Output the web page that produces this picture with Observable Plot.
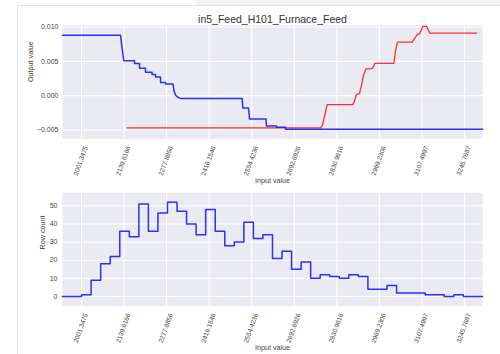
<!DOCTYPE html>
<html><head><meta charset="utf-8">
<script src="https://cdn.jsdelivr.net/npm/d3@7"></script>
<script src="https://cdn.jsdelivr.net/npm/@observablehq/plot@0.6"></script>
<style>
html,body{margin:0;padding:0;background:#fff;width:500px;height:354px;overflow:hidden;}
#wrap{position:relative;width:500px;height:354px;}
#band{position:absolute;left:195px;top:0;width:305px;height:5px;background:#f3f3f3;}
#frame{position:absolute;left:17px;top:5px;width:483px;height:349px;border-left:1px solid #e4e4e4;border-top:1px solid #e4e4e4;}
#top,#bottom{position:absolute;left:0;}
#top{top:0}
#bottom{top:186px}
svg{display:block}
</style></head><body>
<div id="wrap"><div id="band"></div><div id="frame"></div><div id="top"></div><div id="bottom"></div></div>
<script>
const title = "in5_Feed_H101_Furnace_Feed";
const xLabel = "Input value";
const topYLabel = "Output value";
const bottomYLabel = "Row count";
const xTicks = [2001.3475, 2139.6166, 2277.8856, 2416.1546, 2554.4236, 2692.6926, 2830.9616, 2969.2306, 3107.4997, 3245.7687];
const xTickLabels = ["2001.3475", "2139.6166", "2277.8856", "2416.1546", "2554.4236", "2692.6926", "2830.9616", "2969.2306", "3107.4997", "3245.7687"];
const topYTicks = [-0.005, 0, 0.005, 0.010];
const countTicks = [0, 10, 20, 30, 40, 50];

const blueX = [1939.6, 2128.1, 2132.9, 2138.8, 2173.5, 2173.5, 2189.8, 2189.8, 2209.3, 2209.3, 2230.4, 2230.4, 2241.8, 2241.8, 2258.0, 2258.0, 2274.3, 2274.3, 2298.6, 2301.9, 2306.7, 2313.2, 2323.0, 2523.5, 2525.4, 2543.9, 2547.2, 2600.8, 2602.4, 2634.9, 2634.9, 2664.1, 2664.1, 3304.2];
const blueY = [0.0088, 0.0088, 0.0070, 0.0051, 0.0051, 0.0047, 0.0047, 0.0040, 0.0040, 0.0034, 0.0034, 0.0031, 0.0031, 0.0027, 0.0027, 0.0019, 0.0019, 0.0017, 0.0017, 0.0007, 0.0001, -0.0002, -0.0004, -0.0004, -0.0018, -0.0018, -0.0034, -0.0034, -0.0044, -0.0044, -0.0046, -0.0046, -0.0049, -0.0049];

const redX = [2149.2, 2777.9, 2784.3, 2790.9, 2799.6, 2882.8, 2888.3, 2894.8, 2904.6, 2911.1, 2917.6, 2925.7, 2940.3, 2946.8, 2954.9, 3016.0, 3021.5, 3028.0, 3075.8, 3083.3, 3092.0, 3099.5, 3110.9, 3122.2, 3133.0, 3284.7];
const redY = [-0.0047, -0.0047, -0.0043, -0.0030, -0.0013, -0.0013, -0.0008, 0.0002, 0.0003, 0.0015, 0.0030, 0.0039, 0.0039, 0.0040, 0.0047, 0.0047, 0.0065, 0.0078, 0.0078, 0.0083, 0.0089, 0.0090, 0.0101, 0.0101, 0.0091, 0.0091];

const binEdges = [1939.6, 1970.6, 2001.6, 2032.6, 2063.6, 2094.7, 2125.7, 2156.7, 2187.7, 2218.7, 2249.7, 2280.7, 2311.7, 2342.7, 2373.7, 2404.8, 2435.8, 2466.8, 2497.8, 2528.8, 2559.8, 2590.8, 2621.8, 2652.8, 2683.8, 2714.9, 2745.9, 2776.9, 2807.9, 2838.9, 2869.9, 2900.9, 2931.9, 2962.9, 2993.9, 3025.0, 3056.0, 3087.0, 3118.0, 3149.0, 3180.0, 3211.0, 3242.0, 3273.0, 3304.0];
const rowCounts = [0, 0, 1, 9, 18, 22, 36, 33, 51, 36, 46, 52, 47, 40, 34, 48, 36, 28, 30, 41, 32, 34, 21, 25, 15, 19, 10, 12, 11, 10, 12, 11, 4, 4, 6, 2, 2, 2, 1, 1, 0, 1, 0, 0];

const font = "'Liberation Sans', Arial, sans-serif";
const textColor = "#444";
const bg = "#EAEAF2";
const xDomain = [1939.6, 3304.2];

const blueData = blueX.map((x, i) => ({x, y: blueY[i]}));
const redData = redX.map((x, i) => ({x, y: redY[i]}));
const histData = binEdges.map((x, i) => ({x, y: rowCounts[Math.min(i, rowCounts.length - 1)]}));

function xTickText() {
  return Plot.text(xTicks, {
    x: d => d, frameAnchor: "bottom", text: (d, i) => xTickLabels[i],
    rotate: -70, textAnchor: "end", lineAnchor: "middle",
    dx: 4.5, dy: 7.5, fontSize: 6.5, fill: textColor
  });
}

const topPlot = Plot.plot({
  width: 500, height: 186,
  marginLeft: 62, marginRight: 18, marginTop: 24.7, marginBottom: 47.7,
  x: {domain: xDomain, axis: null},
  y: {domain: [-0.00628, 0.01026], axis: null},
  style: {fontFamily: font, background: "transparent", overflow: "visible"},
  marks: [
    Plot.frame({fill: bg, stroke: "none"}),
    Plot.gridX(xTicks, {stroke: "white", strokeOpacity: 1, strokeWidth: 1.1}),
    Plot.gridY(topYTicks, {stroke: "white", strokeOpacity: 1, strokeWidth: 1.1}),
    Plot.axisY(topYTicks, {tickSize: 0, tickPadding: 4, tickFormat: d3.format(".3f"), fontSize: 7, fill: textColor, label: null}),
    xTickText(),
    Plot.line(redData, {x: "x", y: "y", stroke: "#ff1a1a", strokeWidth: 1.3, strokeOpacity: 0.9}),
    Plot.line(blueData, {x: "x", y: "y", stroke: "#1a1aff", strokeWidth: 1.5, strokeOpacity: 0.9}),
    Plot.text([title], {frameAnchor: "top", text: d => d, lineAnchor: "bottom", dy: -2, fontSize: 10.5, fill: "#333"}),
    Plot.text([topYLabel], {frameAnchor: "left", text: d => d, rotate: -90, dx: -32, fontSize: 7.2, fill: textColor}),
    Plot.text([xLabel], {frameAnchor: "bottom", text: d => d, lineAnchor: "middle", dy: 41.5, fontSize: 7.2, fill: textColor})
  ]
});
document.getElementById("top").appendChild(topPlot);

const bottomPlot = Plot.plot({
  width: 500, height: 168,
  marginLeft: 62, marginRight: 18, marginTop: 6.3, marginBottom: 48.3,
  x: {domain: xDomain, axis: null},
  y: {domain: [-5.35, 57.2], axis: null},
  style: {fontFamily: font, background: "transparent", overflow: "visible"},
  marks: [
    Plot.frame({fill: bg, stroke: "none"}),
    Plot.gridX(xTicks, {stroke: "white", strokeOpacity: 1, strokeWidth: 1.1}),
    Plot.gridY(countTicks, {stroke: "white", strokeOpacity: 1, strokeWidth: 1.1}),
    Plot.axisY(countTicks, {tickSize: 0, tickPadding: 5, fontSize: 7, fill: textColor, label: null}),
    xTickText(),
    Plot.line(histData, {x: "x", y: "y", curve: "step-after", stroke: "#1a1aff", strokeWidth: 1.5, strokeOpacity: 0.9}),
    Plot.text([bottomYLabel], {frameAnchor: "left", text: d => d, rotate: -90, dx: -20, fontSize: 7.2, fill: textColor}),
    Plot.text([xLabel], {frameAnchor: "bottom", text: d => d, lineAnchor: "middle", dy: 41.3, fontSize: 7.2, fill: textColor})
  ]
});
document.getElementById("bottom").appendChild(bottomPlot);
</script>
</body></html>
